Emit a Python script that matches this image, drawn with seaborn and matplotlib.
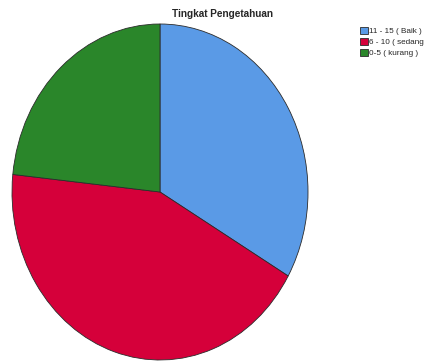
import matplotlib
matplotlib.use("Agg")
import matplotlib.pyplot as plt
import seaborn as sns

categories = ["11 - 15 ( Baik )", "6 - 10 ( sedang", "0-5 ( kurang )"]
counts = [10, 13, 7]
colors = ["#5A9AE6", "#D5003A", "#2A862A"]

sns.set_style("white")
plt.rcParams["font.family"] = ["Liberation Sans", "DejaVu Sans"]

fig = plt.figure(figsize=(4.26, 3.62), dpi=100)
ax = fig.add_axes([12 / 426, 2 / 362, 296 / 426, 336 / 362])
wedges, _ = ax.pie(
    counts, colors=colors, startangle=90, counterclock=False,
    wedgeprops={"edgecolor": "#2b2b2b", "linewidth": 0.6},
)
ax.set_aspect("auto")
ax.set_xlim(-1, 1)
ax.set_ylim(-1, 1)
ax.axis("off")

fig.text(222 / 426, 1 - 14 / 362, "Tingkat Pengetahuan", ha="center",
         va="center", fontsize=7.2, fontweight="bold")
fig.legend(
    wedges, categories, loc="upper left", bbox_to_anchor=(360 / 426, 1 - 27 / 362),
    frameon=False, fontsize=5.9, handlelength=0.95, handleheight=0.95,
    handletextpad=0.2, labelspacing=0.3, borderpad=0, borderaxespad=0,
)

fig.savefig("out.png", dpi=100)
